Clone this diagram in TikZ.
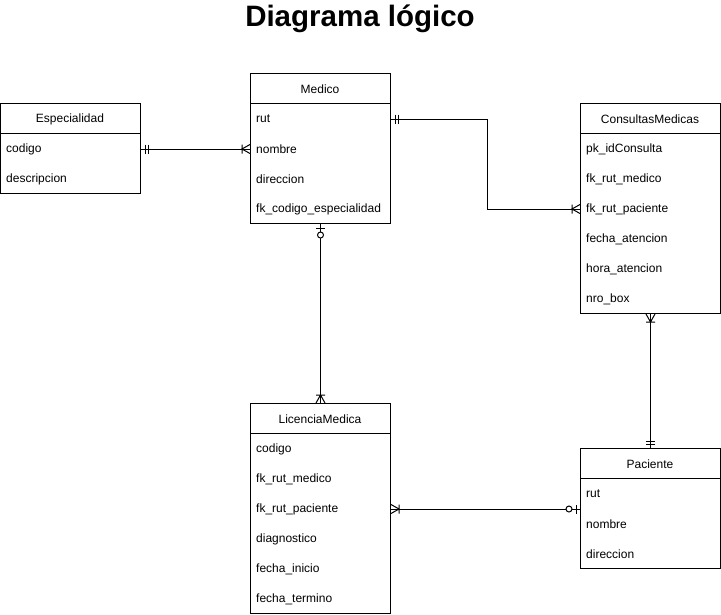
\documentclass[tikz,border=0pt]{standalone}
\usepackage{fontspec}
\setmainfont{Liberation Sans}
\usetikzlibrary{calc}
\tikzset{
  ebox/.style={draw, line width=1pt, minimum width=140pt, inner sep=0pt, anchor=north west},
  ehead/.style={font=\fontsize{12}{14}\selectfont, inner sep=0pt},
  erow/.style={font=\fontsize{12}{14}\selectfont, inner sep=0pt, anchor=west},
  conn/.style={line width=1pt},
  mandone/.pic={\draw[line width=1pt] (4,-4.5)--(4,4.5) (7,-4.5)--(7,4.5);},
  onemany/.pic={\draw[line width=1pt] (0,-4.5)--(8,0)--(0,4.5) (8,-4.5)--(8,4.5);},
  zeroone/.pic={\draw[line width=1pt] (4,-4.5)--(4,4.5); \draw[line width=1pt,fill=white] (11,0) circle[radius=3];},
}
\newcommand\erentity[6]{%
  \node[ebox, minimum height={30+30*#5}] (#1) at (#2,#3) {};
  \node[ehead] (#1-h) at (#2+70,#3+16) {#4};
  \draw[line width=1pt] (#2,#3+30) -- (#2+140,#3+30);
  \foreach \t [count=\i] in {#6} {\node[erow] (#1-\i) at (#2+6,#3+16+30*\i) {\t};}
}
\begin{document}
\begin{tikzpicture}[x=1pt,y=-1pt]
\useasboundingbox[fill=white] (0,0) rectangle (721,614);
\node[font=\bfseries\fontsize{29.5}{34}\selectfont, inner sep=0pt] (title) at (360,18.5) {Diagrama lógico};

\erentity{esp}{0}{103}{Especialidad}{2}{codigo,descripcion}
\erentity{med}{250}{73}{Medico}{4}{rut,nombre,direccion,fk\_codigo\_especialidad}
\erentity{con}{580}{103}{ConsultasMedicas}{6}{pk\_idConsulta,fk\_rut\_medico,fk\_rut\_paciente,fecha\_atencion,hora\_atencion,nro\_box}
\erentity{lic}{250}{403}{LicenciaMedica}{6}{codigo,fk\_rut\_medico,fk\_rut\_paciente,diagnostico,fecha\_inicio,fecha\_termino}
\erentity{pac}{580}{448}{Paciente}{3}{rut,nombre,direccion}

% Especialidad -- Medico
\draw[conn] (esp.east |- esp-1) -- (med.west |- med-2);
\pic at (esp.east |- esp-1) {mandone};
\pic[rotate=180] at (med.west |- med-2) {onemany};

% Medico -- ConsultasMedicas
\draw[conn] (med.east |- med-1) -- ++(96,0) |- (con.west |- con-3);
\pic at (med.east |- med-1) {mandone};
\pic[rotate=180] at (con.west |- con-3) {onemany};

% Medico -- LicenciaMedica
\draw[conn] (med.south) -- (lic.north);
\pic[rotate=-90] at (med.south) {zeroone};
\pic[rotate=90] at (lic.north) {onemany};

% ConsultasMedicas -- Paciente
\draw[conn] (con.south) -- (pac.north);
\pic[rotate=-90] at (con.south) {onemany};
\pic[rotate=90] at (pac.north) {mandone};

% LicenciaMedica -- Paciente
\draw[conn] (lic.east |- lic-3) -- (pac.west |- lic-3);
\pic at (lic.east |- lic-3) {onemany};
\pic[rotate=180] at (pac.west |- lic-3) {zeroone};
\end{tikzpicture}
\end{document}
